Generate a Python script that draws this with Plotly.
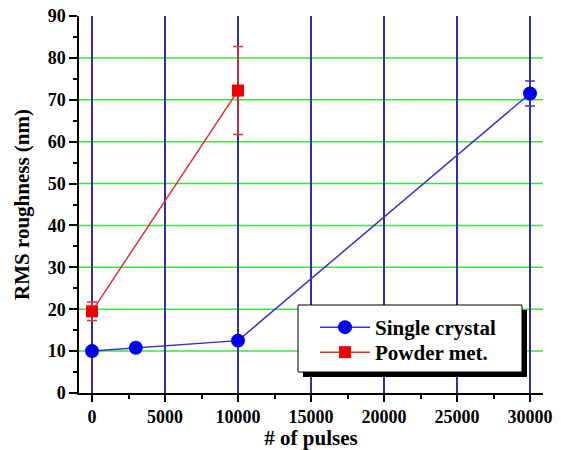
import plotly.graph_objects as go

# Data
sc_x = [0, 3000, 10000, 30000]
sc_y = [10.0, 10.8, 12.5, 71.5]
sc_err = [0, 0, 0, 3.0]

pm_x = [0, 10000]
pm_y = [19.5, 72.2]
pm_err = [2.2, 10.5]

x_ticks = [0, 5000, 10000, 15000, 20000, 25000, 30000]
y_ticks = [0, 10, 20, 30, 40, 50, 60, 70, 80, 90]
y_grid = [10, 20, 30, 40, 50, 60, 70, 80]

FONT = "Liberation Serif"

fig = go.Figure()

fig.add_trace(go.Scatter(
    x=sc_x, y=sc_y, mode="lines+markers", name="<b>Single crystal</b>",
    line=dict(color="#3a2fc8", width=1.5),
    marker=dict(symbol="circle", size=14, color="#0000f0", line=dict(width=0)),
    error_y=dict(type="data", array=sc_err, color="#3a2fc8", thickness=1.5, width=5),
    legend="legend",
))
fig.add_trace(go.Scatter(
    x=pm_x, y=pm_y, mode="lines+markers", name="<b>Powder met.</b>",
    line=dict(color="#e03030", width=1.5),
    marker=dict(symbol="square", size=12, color="#f00000", line=dict(width=0)),
    error_y=dict(type="data", array=pm_err, color="#e03030", thickness=1.5, width=5),
    legend="legend2",
))

L, R, T, B = 79, 543, 16, 393
W, H = R - L, B - T
def px(xp):
    return (xp - L) / W
def py(yp):
    return (B - yp) / H

shapes = []
for gy in y_grid:
    shapes.append(dict(type="line", xref="paper", yref="y", x0=0, x1=1, y0=gy, y1=gy,
                       line=dict(color="#44dd44", width=1.5), layer="below"))

# legend box with shadow
shapes.append(dict(type="rect", xref="paper", yref="paper",
                   x0=px(303), x1=px(527), y0=py(377), y1=py(310),
                   fillcolor="black", line=dict(width=0), layer="above"))
shapes.append(dict(type="rect", xref="paper", yref="paper",
                   x0=px(298), x1=px(522), y0=py(372), y1=py(305),
                   fillcolor="white", line=dict(color="black", width=1), layer="above"))

leg_common = dict(xanchor="left", yanchor="top", bgcolor="rgba(0,0,0,0)", borderwidth=0,
                  font=dict(family=FONT, size=21, color="black"), itemwidth=50)

fig.update_layout(
    width=561, height=450,
    margin=dict(l=L, r=561 - R, t=T, b=450 - B),
    paper_bgcolor="white", plot_bgcolor="white",
    font=dict(family=FONT, color="black"),
    shapes=shapes,
    showlegend=True,
    legend=dict(x=px(315), y=py(307), **leg_common),
    legend2=dict(x=px(315), y=py(332), **leg_common),
    xaxis=dict(
        range=[-890, 30890], tickmode="array", tickvals=x_ticks,
        ticktext=[f"<b>{v}</b>" for v in x_ticks],
        tickfont=dict(family=FONT, size=18, color="black"),
        showgrid=True, gridcolor="#3030a0", gridwidth=1.5,
        zeroline=False, showline=True, linecolor="black", linewidth=1.5,
        ticks="outside", ticklen=7, tickwidth=1.5, tickcolor="black",
        automargin=False,
        minor=dict(dtick=2500, tick0=0, ticks="outside", ticklen=4, tickwidth=1.5,
                   tickcolor="black", showgrid=False),
        title=dict(text="<b># of pulses</b>", font=dict(family=FONT, size=21, color="black"),
                   standoff=4),
    ),
    yaxis=dict(
        range=[0, 90], tickmode="array", tickvals=y_ticks,
        ticktext=[f"<b>{v}</b>" for v in y_ticks],
        tickfont=dict(family=FONT, size=18, color="black"),
        showgrid=False, zeroline=False, showline=True, linecolor="black", linewidth=1.5,
        ticks="outside", ticklen=8, tickwidth=1.5, tickcolor="black",
        automargin=False,
        minor=dict(dtick=5, tick0=0, ticks="outside", ticklen=4, tickwidth=1.5,
                   tickcolor="black", showgrid=False),
        title=dict(text="<b>RMS roughness (nm)</b>", font=dict(family=FONT, size=21, color="black"),
                   standoff=12),
    ),
)

fig.write_html("out.html")
